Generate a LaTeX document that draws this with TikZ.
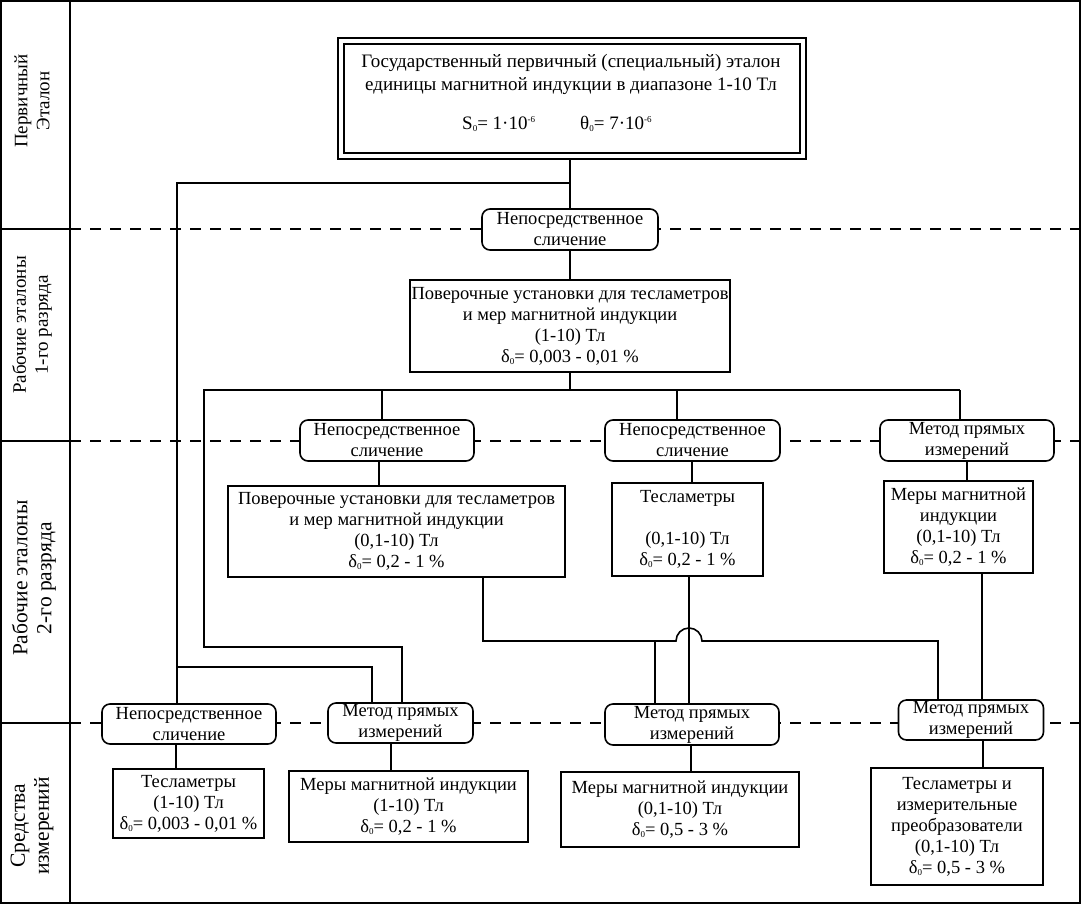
\documentclass[tikz,border=0pt]{standalone}
\usepackage{fontspec}
\setmainfont{Liberation Serif}
\newcommand{\fs}{\fontsize{18.5}{21}\selectfont}
\newcommand{\fst}{\fontsize{19}{23}\selectfont}
\newcommand{\fsl}{\fontsize{19}{22}\selectfont}
\newcommand{\fsL}{\fontsize{21.5}{24}\selectfont}
\newcommand{\sbz}[1]{\raisebox{-0.25ex}{\fontsize{9}{9}\selectfont #1}}
\newcommand{\spz}[1]{\raisebox{0.75ex}{\fontsize{9}{9}\selectfont #1}}
\newcommand{\dz}{δ\sbz{0}}
\begin{document}
\begin{tikzpicture}[x=1pt,y=-1pt,
  ln/.style={line width=1.6pt},
  rbox/.style={draw, line width=1.6pt, rounded corners=8pt, fill=white, align=center, inner sep=0pt, font=\fs},
  sbox/.style={draw, line width=1.6pt, fill=white, align=center, inner sep=0pt, font=\fs},
  dsh/.style={line width=1.6pt, dash pattern=on 11pt off 9pt},
  lbl/.style={rotate=90, align=center, inner sep=0pt}]
\useasboundingbox (0,0) rectangle (1081,905);
% frame
\draw[line width=2pt] (1,1) rectangle (1080,903);
\draw[line width=2pt] (70,1) -- (70,903);
\foreach \yy in {229,441,723} {
  \draw[line width=1.6pt] (1,\yy) -- (70,\yy);
  \draw[dsh] (70,\yy) -- (1080,\yy);
}
% left labels
\node[lbl, font=\fsl] (L1) at (32,101) {Первичный\\Эталон};
\node[lbl, font=\fsl] (L2) at (32,325) {Рабочие эталоны\\1-го разряда};
\node[lbl, font=\fsL] (L3) at (34,578) {Рабочие эталоны\\2-го разряда};
\node[lbl, font=\fsL] (L4) at (32,826) {Средства\\измерений};
% top box
\node[draw, double, double distance=4pt, line width=2pt, minimum width=462pt, minimum height=114.5pt, inner sep=0pt] (top) at (572,98.25) {};
\node[font=\fst, align=center, inner sep=0pt] (ttl) at (571,74) {Государственный первичный (специальный) эталон\\единицы магнитной индукции в диапазоне 1-10 Тл};
\node[font=\fst, anchor=west, inner sep=0pt] (s0) at (462,124) {S\sbz{0}= 1·10\spz{-6}};
\node[font=\fst, anchor=west, inner sep=0pt] (th0) at (580,124) {θ\sbz{0}= 7·10\spz{-6}};
\coordinate (tb) at (570,158);
\coordinate (j1) at (570,183);
% level 1
\node[rbox, minimum width=176pt, minimum height=41pt] (m1) at (570,229.5) {Непосредственное\\сличение};
\node[sbox, minimum width=320pt, minimum height=92pt] (b1) at (570,326) {Поверочные установки для тесламетров\\и мер магнитной индукции\\(1-10) Тл\\\dz= 0,003 - 0,01 \%};
% level 2
\node[rbox, minimum width=174pt, minimum height=41pt] (m2a) at (387,440.5) {Непосредственное\\сличение};
\node[rbox, minimum width=175pt, minimum height=41pt] (m2b) at (692.5,440.5) {Непосредственное\\сличение};
\node[rbox, minimum width=174pt, minimum height=41pt] (m2c) at (967,440.5) {Метод прямых\\измерений};
\node[sbox, minimum width=337pt, minimum height=91pt] (b2a) at (396.5,531.5) {Поверочные установки для тесламетров\\и мер магнитной индукции\\(0,1-10) Тл\\\dz= 0,2 - 1 \%};
\node[sbox, minimum width=151pt, minimum height=93pt] (b2b) at (687.5,529.5) {Тесламетры\\\mbox{}\\(0,1-10) Тл\\\dz= 0,2 - 1 \%};
\node[sbox, minimum width=149pt, minimum height=92pt] (b2c) at (958.5,527) {Меры магнитной\\индукции\\(0,1-10) Тл\\\dz= 0,2 - 1 \%};
% level 3
\node[rbox, minimum width=174pt, minimum height=40pt] (m3a) at (189,724) {Непосредственное\\сличение};
\node[rbox, minimum width=145pt, minimum height=40pt] (m3b) at (400.5,723) {Метод прямых\\измерений};
\node[rbox, minimum width=174pt, minimum height=41pt] (m3c) at (692,724.5) {Метод прямых\\измерений};
\node[rbox, minimum width=145pt, minimum height=40pt] (m3d) at (971,720) {Метод прямых\\измерений};
\node[sbox, minimum width=151pt, minimum height=69pt] (b3a) at (188.5,803.5) {Тесламетры\\(1-10) Тл\\\dz= 0,003 - 0,01 \%};
\node[sbox, minimum width=239pt, minimum height=71pt] (b3b) at (408.5,806.5) {Меры магнитной индукции\\(1-10) Тл\\\dz= 0,2 - 1 \%};
\node[sbox, minimum width=238pt, minimum height=75pt] (b3c) at (680,809.5) {Меры магнитной индукции\\(0,1-10) Тл\\\dz= 0,5 - 3 \%};
\node[sbox, minimum width=172pt, minimum height=117pt] (b3d) at (957,826.5) {Тесламетры и\\измерительные\\преобразователи\\(0,1-10) Тл\\\dz= 0,5 - 3 \%};
% connectors
\draw[ln] (tb) -- (m1.north);
\draw[ln] (j1) -| (177,0 |- m3a.north);
\draw[ln] (177,667) -| (372,0 |- m3b.north);
\draw[ln] (m1.south) -- (570,0 |- b1.north);
\draw[ln] (570,0 |- b1.south) -- (570,390);
\draw[ln] (402,0 |- m3b.north) -- (402,647) -- (204,647) -- (204,390) -- (960,390);
\draw[ln] (382,390) -- (382,0 |- m2a.north);
\draw[ln] (677,390) -- (677,0 |- m2b.north);
\draw[ln] (960,390) -- (960,0 |- m2c.north);
\draw[ln] (379,0 |- m2a.south) -- (379,0 |- b2a.north);
\draw[ln] (692,0 |- m2b.south) -- (692,0 |- b2b.north);
\draw[ln] (967,0 |- m2c.south) -- (967,0 |- b2c.north);
\draw[ln] (483,0 |- b2a.south) -- (483,641) -- (676,641) arc[start angle=180, end angle=360, radius=13] -- (938,641) -- (938,0 |- m3d.north);
\draw[ln] (655,641) -- (655,0 |- m3c.north);
\draw[ln] (689,0 |- b2b.south) -- (689,0 |- m3c.north);
\draw[ln] (982,0 |- b2c.south) -- (982,0 |- m3d.north);
\draw[ln] (176,0 |- m3a.south) -- (176,0 |- b3a.north);
\draw[ln] (391,0 |- m3b.south) -- (391,0 |- b3b.north);
\draw[ln] (691,0 |- m3c.south) -- (691,0 |- b3c.north);
\draw[ln] (983,0 |- m3d.south) -- (983,0 |- b3d.north);
\end{tikzpicture}
\end{document}
